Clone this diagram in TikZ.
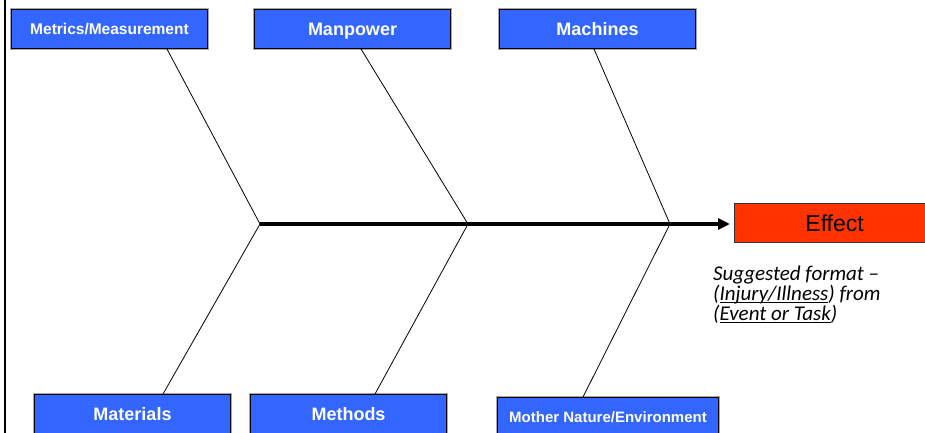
\documentclass[tikz,border=0pt]{standalone}
\usepackage{fontspec}
\setmainfont{Liberation Sans}
\newfontfamily\notefont{Carlito}
\usetikzlibrary{arrows.meta,calc}

\definecolor{causeblue}{RGB}{51,102,255}
\definecolor{effectred}{RGB}{255,51,0}

% underline drawn as a rule below the word
\newcommand\undl[1]{\setbox0\hbox{#1}\rlap{\rule[-2.6pt]{\wd0}{1.1pt}}\box0}

\tikzset{
  causebox/.style={draw=black, line width=1pt, fill=causeblue, text=white,
    minimum width=196pt, minimum height=39pt, inner sep=0pt,
    anchor=north west, preaction={draw=black!35, line width=2.6pt}},
  bigtext/.style={font=\bfseries\fontsize{18}{21}\selectfont,
    text height=12.9pt, text depth=0pt},
  smalltext/.style={font=\bfseries\fontsize{15.5}{18}\selectfont,
    text height=11.1pt, text depth=0pt},
  bone/.style={draw=black, line width=0.8pt},
  spine/.style={draw=black, line width=3.4pt,
    -{Triangle[length=12pt,width=11pt]}, shorten >=4pt},
}

\begin{document}
\begin{tikzpicture}[x=1pt,y=-1pt]
  \useasboundingbox (0,0) rectangle (925,433);

  % page frame on the left
  \draw[line width=2pt] (5,-5) -- (5,440);

  % cause categories, top row
  \node[causebox, smalltext] (metrics)  at (11,9)  {Metrics/Measurement};
  \node[causebox, bigtext]   (manpower) at (254,9) {Manpower};
  \node[causebox, bigtext]   (machines) at (499,9) {Machines};

  % cause categories, bottom row
  \node[causebox, bigtext] (materials) at (34,394)  {Materials};
  \node[causebox, bigtext] (methods)   at (250,394) {Methods};
  \node[causebox, smalltext, font=\bfseries\fontsize{15}{18}\selectfont,
        text height=10.7pt, minimum width=221pt, minimum height=40pt]
    (nature) at (497,397) {Mother Nature/Environment};

  % effect
  \node[draw=black!80, line width=1.2pt, fill=effectred, anchor=north west,
        minimum width=200pt, minimum height=39pt, inner sep=0pt,
        text width=186pt, align=center,
        font=\fontsize{23}{25}\selectfont, text height=16.5pt, text depth=0pt]
    (effect) at (734,203) {Effect};

  % junctions on the spine
  \coordinate (j1) at (260,224);
  \coordinate (j2) at (468,224);
  \coordinate (j3) at (670,224);

  % spine
  \draw[spine] (j1) -- (effect.west |- j1);

  % bones
  \draw[bone] ($(metrics.south west)+(156,0)$) -- (j1);
  \draw[bone] (j1) -- ($(materials.north west)+(129,0)$);
  \draw[bone] ($(manpower.south west)+(107,0)$) -- (j2);
  \draw[bone] (j2) -- ($(methods.north west)+(125,0)$);
  \draw[bone] ($(machines.south west)+(95,0)$) -- (j3);
  \draw[bone] (j3) -- ($(nature.north west)+(86,0)$);

  % note under the effect
  \node[anchor=north west, inner sep=0pt, align=left,
        font=\notefont\itshape\fontsize{21}{20}\selectfont]
    (note) at (713,266)
    {Suggested format –\\(\undl{Injury/Illness}) from\\(\undl{Event or Task})};
\end{tikzpicture}
\end{document}
